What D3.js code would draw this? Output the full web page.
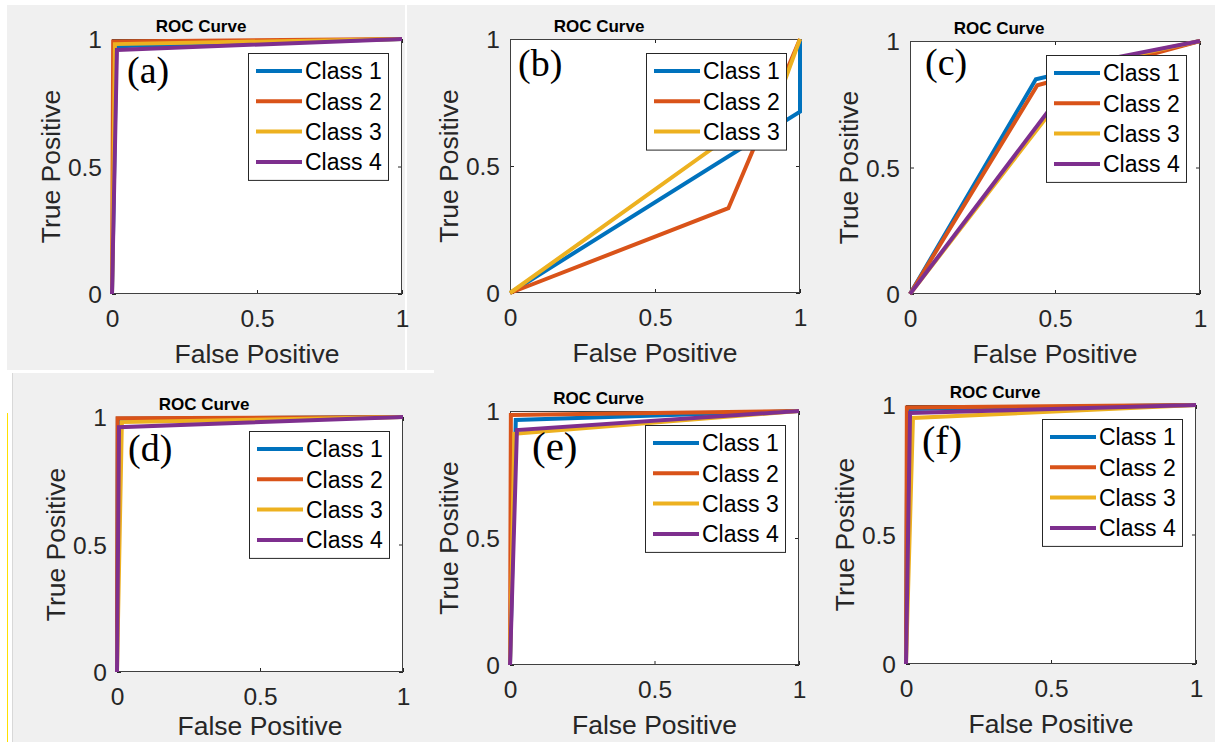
<!DOCTYPE html>
<html>
<head>
<meta charset="utf-8">
<script src="https://cdn.jsdelivr.net/npm/d3@7"></script>
<style>
  html, body { margin: 0; padding: 0; background: #ffffff; }
  svg { display: block; }
</style>
</head>
<body>
<svg id="chart" width="1215" height="742"></svg>
<script>
// ---------------- DATA ----------------
const panelLabels = ["(a)", "(b)", "(c)", "(d)", "(e)", "(f)"];
const classNames = ["Class 1", "Class 2", "Class 3", "Class 4"];
const classColors = ["#0072BD", "#D95319", "#EDB120", "#7E2F8E"];
const tickValues = [0, 0.5, 1];
const tickLabels = ["0", "0.5", "1"];
const titleText = "ROC Curve";
const xLabelText = "False Positive";
const yLabelText = "True Positive";

// false positive / true positive points per class, per panel
const fprA = [[0, 0.015, 1], [0, 0.004, 1], [0, 0.010, 1], [0, 0.017, 1]];
const tprA = [[0, 0.972, 1], [0, 0.990, 1], [0, 0.980, 1], [0, 0.957, 1]];
const fprB = [[0, 1, 1], [0, 0.753, 1], [0, 0.920, 1]];
const tprB = [[0, 0.714, 1], [0, 0.334, 1], [0, 0.750, 1]];
const fprC = [[0, 0.434, 1], [0, 0.439, 1], [0, 0.610, 1], [0, 0.600, 1]];
const tprC = [[0, 0.849, 1], [0, 0.825, 1], [0, 0.905, 1], [0, 0.910, 1]];
const fprD = [[0, 0.003, 1], [0, 0.002, 1], [0, 0.017, 1], [0, 0.007, 1]];
const tprD = [[0, 0.993, 1], [0, 0.995, 1], [0, 0.980, 1], [0, 0.960, 1]];
const fprE = [[0, 0.020, 1], [0, 0.003, 1], [0, 0.015, 1], [0, 0.024, 1]];
const tprE = [[0, 0.965, 1], [0, 0.984, 1], [0, 0.910, 1], [0, 0.925, 1]];
const fprF = [[0, 0.005, 1], [0, 0.003, 1], [0, 0.024, 1], [0, 0.014, 1]];
const tprF = [[0, 0.985, 1], [0, 0.990, 1], [0, 0.950, 1], [0, 0.969, 1]];

const fprAll = [fprA, fprB, fprC, fprD, fprE, fprF];
const tprAll = [tprA, tprB, tprC, tprD, tprE, tprF];

// ---------------- LAYOUT ----------------
const layout = [
  { x0: 112, x1: 402, y0: 39,  y1: 294, lx: 15, ly: 44, ls: 38 },
  { x0: 510, x1: 800, y0: 39,  y1: 293, lx: 8,  ly: 37, ls: 38 },
  { x0: 910, x1: 1200, y0: 41, y1: 294, lx: 15, ly: 34, ls: 38 },
  { x0: 117, x1: 403, y0: 417, y1: 672, lx: 11, ly: 44, ls: 38 },
  { x0: 510, x1: 799, y0: 411, y1: 665, lx: 22, ly: 49, ls: 41 },
  { x0: 906, x1: 1196, y0: 405, y1: 664, lx: 16, ly: 49, ls: 40 }
];

const SANS = "'Liberation Sans', Arial, Helvetica, sans-serif";
const SERIF = "'Liberation Serif', 'Times New Roman', serif";
const TXT = "#262626";

const svg = d3.select("#chart");

// background (collage of screenshots)
svg.append("rect").attr("width", 1215).attr("height", 742).attr("fill", "#f0f0f0");
svg.append("rect").attr("x", 0).attr("y", 0).attr("width", 1215).attr("height", 5).attr("fill", "#ffffff");
svg.append("rect").attr("x", 0).attr("y", 0).attr("width", 7).attr("height", 372).attr("fill", "#ffffff");
svg.append("rect").attr("x", 405).attr("y", 0).attr("width", 2).attr("height", 372).attr("fill", "#ffffff");
svg.append("rect").attr("x", 0).attr("y", 370).attr("width", 434).attr("height", 3).attr("fill", "#ffffff");
svg.append("rect").attr("x", 0).attr("y", 370).attr("width", 12).attr("height", 372).attr("fill", "#ffffff");
svg.append("line").attr("x1", 12.5).attr("x2", 12.5).attr("y1", 373).attr("y2", 742)
  .attr("stroke", "#d8d8d8").attr("stroke-width", 1);
svg.append("line").attr("x1", 7.5).attr("x2", 7.5).attr("y1", 413).attr("y2", 742)
  .attr("stroke", "#ffe000").attr("stroke-width", 1);

layout.forEach((L, p) => {
  const x = d3.scaleLinear().domain([0, 1]).range([L.x0, L.x1]);
  const y = d3.scaleLinear().domain([0, 1]).range([L.y1, L.y0]);
  const g = svg.append("g");

  // plot area
  g.append("rect").attr("x", L.x0).attr("y", L.y0)
    .attr("width", L.x1 - L.x0).attr("height", L.y1 - L.y0)
    .attr("fill", "#ffffff");

  // axes (inward ticks on all four sides)
  const styleAxis = (sel) => {
    sel.select(".domain").remove();
    sel.selectAll(".tick line").attr("stroke", TXT).attr("stroke-width", 1);
    sel.selectAll("text").attr("fill", TXT).attr("font-family", SANS).attr("font-size", 24.5);
  };
  const gx = g.append("g").attr("transform", `translate(0,${L.y1})`)
    .call(d3.axisBottom(x).tickValues(tickValues).tickSizeInner(-4).tickSizeOuter(0)
      .tickPadding(0).tickFormat((d, i) => tickLabels[i]));
  styleAxis(gx);
  gx.selectAll("text").attr("y", 33).attr("dy", null);

  const gy = g.append("g").attr("transform", `translate(${L.x0},0)`)
    .call(d3.axisLeft(y).tickValues(tickValues).tickSizeInner(-4).tickSizeOuter(0)
      .tickPadding(10).tickFormat((d, i) => tickLabels[i]));
  styleAxis(gy);
  gy.selectAll("text").attr("dy", "0.36em");

  const gt = g.append("g").attr("transform", `translate(0,${L.y0})`)
    .call(d3.axisTop(x).tickValues(tickValues).tickSizeInner(-4).tickSizeOuter(0).tickFormat(""));
  styleAxis(gt);
  const gr = g.append("g").attr("transform", `translate(${L.x1},0)`)
    .call(d3.axisRight(y).tickValues(tickValues).tickSizeInner(-4).tickSizeOuter(0).tickFormat(""));
  styleAxis(gr);

  // box
  g.append("rect").attr("x", L.x0 + 0.5).attr("y", L.y0 + 0.5)
    .attr("width", L.x1 - L.x0 - 1).attr("height", L.y1 - L.y0 - 1)
    .attr("fill", "none").attr("stroke", "#404040").attr("stroke-width", 1);

  // curves
  const fpr = fprAll[p], tpr = tprAll[p];
  const line = d3.line().x(d => x(d[0])).y(d => y(d[1]));
  fpr.forEach((xs, c) => {
    const pts = xs.map((v, i) => [v, tpr[c][i]]);
    g.append("path").datum(pts).attr("d", line)
      .attr("fill", "none").attr("stroke", classColors[c])
      .attr("stroke-width", 4).attr("stroke-linejoin", "miter");
  });

  // title
  g.append("text").attr("x", (L.x0 + L.x1) / 2 - 56).attr("y", L.y0 - 7)
    .attr("text-anchor", "middle").attr("font-family", SANS)
    .attr("font-size", 17).attr("font-weight", "bold").attr("fill", "#000")
    .text(titleText);

  // axis labels
  g.append("text").attr("x", (L.x0 + L.x1) / 2).attr("y", Math.min(L.y1 + 69, 735))
    .attr("text-anchor", "middle").attr("font-family", SANS)
    .attr("font-size", 26.5).attr("fill", TXT).text(xLabelText);
  g.append("text")
    .attr("transform", `translate(${L.x0 - 52},${(L.y0 + L.y1) / 2}) rotate(-90)`)
    .attr("text-anchor", "middle").attr("font-family", SANS)
    .attr("font-size", 26.5).attr("fill", TXT).text(yLabelText);

  // panel label
  g.append("text").attr("x", L.x0 + L.lx).attr("y", L.y0 + L.ly)
    .attr("font-family", SERIF).attr("font-size", L.ls).attr("fill", "#000")
    .text(panelLabels[p]);

  // legend
  const n = fpr.length;
  const lw = 140, rowH = 30.3, pad = 18;
  const lh = pad * 2 + rowH * (n - 1);
  const lxp = L.x1 - 14 - lw, lyp = L.y0 + 14;
  const lg = g.append("g").attr("transform", `translate(${lxp},${lyp})`);
  lg.append("rect").attr("x", 0.5).attr("y", 0.5).attr("width", lw).attr("height", lh)
    .attr("fill", "#ffffff").attr("stroke", "#262626").attr("stroke-width", 1);
  for (let c = 0; c < n; c++) {
    const cy = pad + c * rowH;
    lg.append("line").attr("x1", 8).attr("x2", 54).attr("y1", cy).attr("y2", cy)
      .attr("stroke", classColors[c]).attr("stroke-width", 4);
    lg.append("text").attr("x", 57).attr("y", cy).attr("dy", "0.36em")
      .attr("font-family", SANS).attr("font-size", 23).attr("fill", "#000")
      .text(classNames[c]);
  }
});
</script>
</body>
</html>
